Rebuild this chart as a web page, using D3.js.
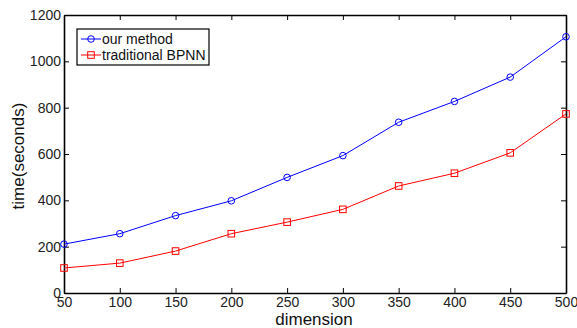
<!DOCTYPE html>
<html>
<head>
<meta charset="utf-8">
<script src="https://cdn.jsdelivr.net/npm/d3@7"></script>
<style>
  html, body { margin: 0; padding: 0; background: #fff; }
  svg { display: block; font-family: "Liberation Sans", Arial, sans-serif; }
</style>
</head>
<body>
<svg id="chart" width="577" height="328"></svg>
<script>
// Data
const dimensions = [50, 100, 150, 200, 250, 300, 350, 400, 450, 500];
const ourMethod = [211, 256, 334, 398, 499, 593, 737, 827, 932, 1106];
const traditionalBPNN = [108, 129, 181, 256, 306, 361, 462, 517, 605, 773];
const xTicks = [50, 100, 150, 200, 250, 300, 350, 400, 450, 500];
const yTicks = [0, 200, 400, 600, 800, 1000, 1200];

const series = [
  { name: 'our method', values: ourMethod, color: '#0000ff', marker: 'circle' },
  { name: 'traditional BPNN', values: traditionalBPNN, color: '#ff0000', marker: 'square' },
];

const M = { left: 64, right: 11, top: 15, bottom: 35 };
const W = 577, H = 328;
const iw = W - M.left - M.right;
const ih = H - M.top - M.bottom;

const svg = d3.select('#chart');
const g = svg.append('g').attr('transform', `translate(${M.left},${M.top})`);

const x = d3.scaleLinear().domain([50, 500]).range([0, iw]);
const y = d3.scaleLinear().domain([0, 1200]).range([ih, 0]);

// ── Axes (MATLAB style: ticks inside, box on all sides) ──
const TICK = 5;
const fmt = d3.format('d');

const xBottom = g.append('g').attr('transform', `translate(0,${ih})`)
  .call(d3.axisBottom(x).tickValues(xTicks).tickFormat(fmt).tickSizeInner(-TICK).tickSizeOuter(0).tickPadding(4));
const xTop = g.append('g')
  .call(d3.axisTop(x).tickValues(xTicks).tickSizeInner(-TICK).tickSizeOuter(0).tickFormat(''));
const yLeft = g.append('g')
  .call(d3.axisLeft(y).tickValues(yTicks).tickFormat(fmt).tickSizeInner(-TICK).tickSizeOuter(0).tickPadding(3));
const yRight = g.append('g').attr('transform', `translate(${iw},0)`)
  .call(d3.axisRight(y).tickValues(yTicks).tickSizeInner(-TICK).tickSizeOuter(0).tickFormat(''));

[xBottom, xTop, yLeft, yRight].forEach(ax => {
  ax.select('.domain').attr('stroke', '#000').attr('stroke-width', 1.6);
  ax.selectAll('.tick line').attr('stroke', '#000').attr('stroke-width', 1);
  ax.selectAll('text').attr('fill', '#222').style('font-size', '14px');
});

// Axis titles
g.append('text')
  .attr('x', iw / 2 - 1)
  .attr('y', ih + 32)
  .attr('text-anchor', 'middle')
  .style('font-size', '17px')
  .attr('fill', '#111')
  .text('dimension');

g.append('text')
  .attr('transform', 'rotate(-90)')
  .attr('x', -(156 - M.top))
  .attr('y', -40)
  .attr('text-anchor', 'middle')
  .style('font-size', '17px')
  .attr('fill', '#111')
  .text('time(seconds)');

// ── Lines and markers ──
const line = d3.line().x((d, i) => x(dimensions[i])).y(d => y(d));

function drawMarker(sel, type, color, cx, cy) {
  if (type === 'circle') {
    sel.append('circle').attr('cx', cx).attr('cy', cy).attr('r', 3.3)
      .attr('fill', 'none').attr('stroke', color).attr('stroke-width', 1);
  } else {
    sel.append('rect').attr('x', cx - 3.3).attr('y', cy - 3.3)
      .attr('width', 6.6).attr('height', 6.6)
      .attr('fill', 'none').attr('stroke', color).attr('stroke-width', 1);
  }
}

series.forEach(s => {
  g.append('path')
    .datum(s.values)
    .attr('d', line)
    .attr('fill', 'none')
    .attr('stroke', s.color)
    .attr('stroke-width', 1);
  const mg = g.append('g');
  s.values.forEach((v, i) => drawMarker(mg, s.marker, s.color, x(dimensions[i]), y(v)));
});

// ── Legend ──
const lg = svg.append('g').attr('transform', 'translate(77,29)');
lg.append('rect').attr('width', 132).attr('height', 36)
  .attr('fill', '#fff').attr('stroke', '#000').attr('stroke-width', 1.2);

series.forEach((s, i) => {
  const ry = 10 + i * 16;
  const row = lg.append('g');
  row.append('line').attr('x1', 4).attr('x2', 24).attr('y1', ry).attr('y2', ry)
    .attr('stroke', s.color).attr('stroke-width', 1);
  drawMarker(row, s.marker, s.color, 14, ry);
  row.append('text').attr('x', 25).attr('y', ry + 5)
    .style('font-size', '14px').attr('fill', '#111')
    .text(s.name);
});
</script>
</body>
</html>
